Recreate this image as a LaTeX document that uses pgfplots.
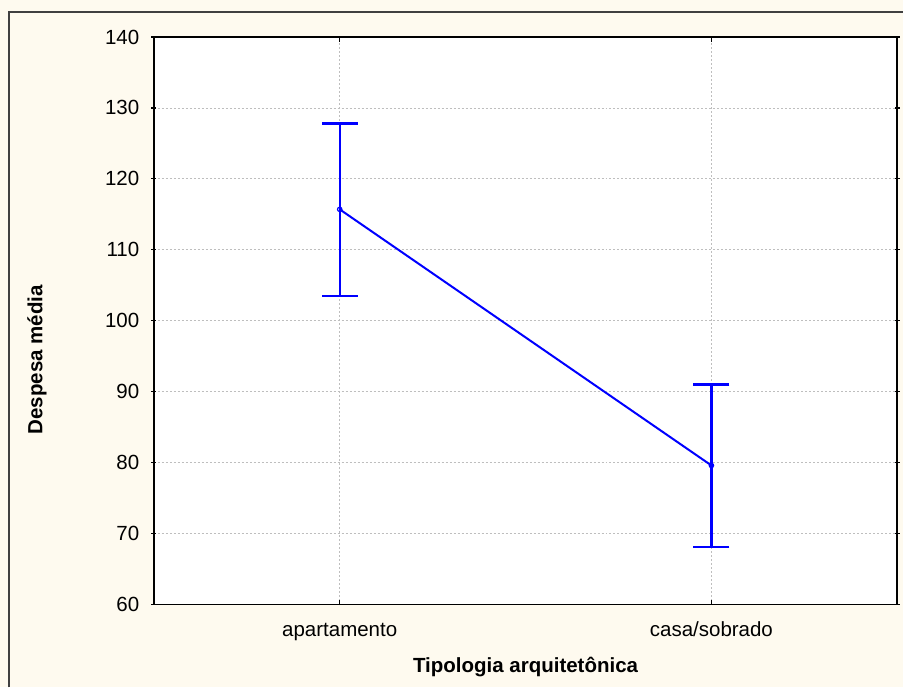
\documentclass[border=0pt]{standalone}
\usepackage{pgfplots}
\pgfplotsset{compat=1.18}
\usepackage{fontspec}
\setmainfont{Liberation Sans}
\definecolor{bgcream}{RGB}{254,250,239}
\definecolor{gridgray}{RGB}{190,190,190}
\begin{document}
\begin{tikzpicture}
\fill[bgcream] (-154pt,-83pt) rectangle (750pt,605pt);
\draw[black!75, line width=1.5pt] (-145pt,-83pt) -- (-145pt,593pt) -- (750pt,593pt);
\begin{axis}[
  at={(0pt,0pt)}, anchor=south west,
  scale only axis, width=744pt, height=568pt,
  xmin=-0.5, xmax=1.5, ymin=60, ymax=140,
  ytick={60,70,...,140}, xtick={0,1},
  xticklabels={apartamento, casa/sobrado},
  axis background/.style={fill=white},
  axis line style={line width=1.6pt},
  grid=major,
  grid style={dash pattern=on 2pt off 2pt, gridgray, line width=0.8pt},
  font=\fontsize{20.5}{24}\selectfont,
  /pgf/number format/assume math mode=true,
  tick style={black, line width=1.2pt},
  major tick length=5pt,
  ytick align=center, xtick align=inside,
  yticklabel style={anchor=east, inner sep=0pt, xshift=-12pt},
  xticklabel style={anchor=base, inner sep=0pt, yshift=-32pt},
  xlabel={\bfseries Tipologia arquitetônica},
  ylabel={\bfseries Despesa média},
  xlabel style={at={(axis description cs:0.5,0)}, anchor=center, yshift=-63pt},
  ylabel style={at={(axis description cs:-0.1573,0.4313)}, anchor=center},
]
% error bars (lower, upper)
\addplot[blue, line width=2.2pt, mark=-, mark size=18pt, mark options={solid, line width=2.2pt}]
  coordinates {(0,103.5) (0,127.8)};
\addplot[blue, line width=2.2pt, mark=-, mark size=18pt, mark options={solid, line width=2.2pt}]
  coordinates {(1,68.1) (1,91.0)};
% means
\addplot[blue, line width=2pt, mark=o, mark size=2.2pt, mark options={line width=1.2pt}]
  coordinates {(0,115.7) (1,79.6)};
\end{axis}
\end{tikzpicture}
\end{document}
